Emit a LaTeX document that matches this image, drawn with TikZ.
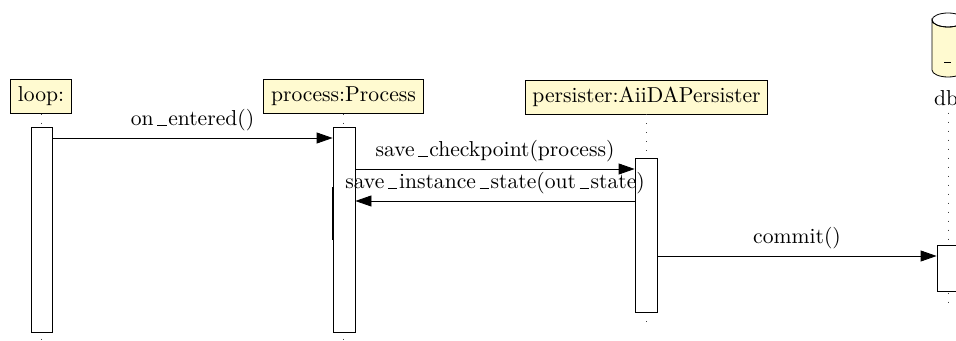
\documentclass[tikz,border=0pt]{standalone}
\usetikzlibrary{arrows.meta}
\definecolor{inst}{RGB}{255,250,208}
\newcommand\us{\kern0.17em\rule[0pt]{0.43em}{0.4pt}\kern0.08em}
\begin{document}
\begin{tikzpicture}[x=0.5pt,y=-0.5pt,
  every node/.style={font=\fontsize{10.8}{13}\selectfont},
  instbox/.style={draw,fill=inst,inner sep=3.6pt},
  act/.style={draw,fill=white,minimum width=11pt,inner sep=0pt},
  life/.style={dash pattern=on 0.5pt off 4pt, draw=black!75},
  msg/.style={-{Triangle[length=8pt,width=5.5pt]}},
  lbl/.style={above,inner sep=3.33pt}]
\clip (0,0) rectangle (956,341);
\useasboundingbox (0,0) rectangle (956,341);
% instances
\node[instbox] (loop) at (41,96.5) {loop:};
\node[instbox] (proc) at (343.5,96.5) {process:Process};
\node[instbox] (pers) at (646.5,97) {persister:AiiDAPersister};
% database cylinder
\draw[fill=inst] (932,20) -- (932,70) arc[start angle=180,end angle=0,x radius=16,y radius=7] -- (964,20) arc[start angle=0,end angle=180,x radius=16,y radius=7] -- cycle;
\draw (948,20) ellipse[x radius=16,y radius=7];
\draw (944,62) -- (951,62);
\node (db) at (946,98) {db};
% lifelines
\coordinate (loopend) at (41,342);
\coordinate (procend) at (344,342);
\coordinate (persend) at (646,326);
\coordinate (dbend) at (948,304);
\draw[life] (loop.south) -- (loop.south |- loopend);
\draw[life] (proc.south) -- (proc.south |- procend);
\draw[life] (pers.south) -- (pers.south |- persend);
\draw[life] (db.south -| dbend) -- (dbend);
% activations
\node[act,minimum width=10.5pt,minimum height=102.5pt] (loopact) at (41.5,229.5) {};
\node[act,minimum height=102.5pt] (procact) at (344,229.5) {};
\coordinate (nesttop) at (333,187);
\coordinate (nestbot) at (333,240);
\draw[line width=0.6pt] (nesttop) -- (nestbot);
\node[act,minimum height=77pt] (persact) at (646,235) {};
\node[act,minimum height=23pt] (dbact) at (948,268) {};
% messages
\coordinate (m1) at (0,138);
\coordinate (m2) at (0,169);
\coordinate (m3) at (0,201);
\coordinate (m4) at (0,256);
\draw[msg] (loopact.east |- m1) -- node[lbl] {on\us entered()} (procact.west |- m1);
\draw[msg] (procact.east |- m2) -- node[lbl] {save\us checkpoint(process)} (persact.west |- m2);
\draw[msg] (persact.west |- m3) -- node[lbl] {save\us instance\us state(out\us state)} (procact.east |- m3);
\draw[msg] (persact.east |- m4) -- node[lbl] {commit()} (dbact.west |- m4);
\end{tikzpicture}
\end{document}
